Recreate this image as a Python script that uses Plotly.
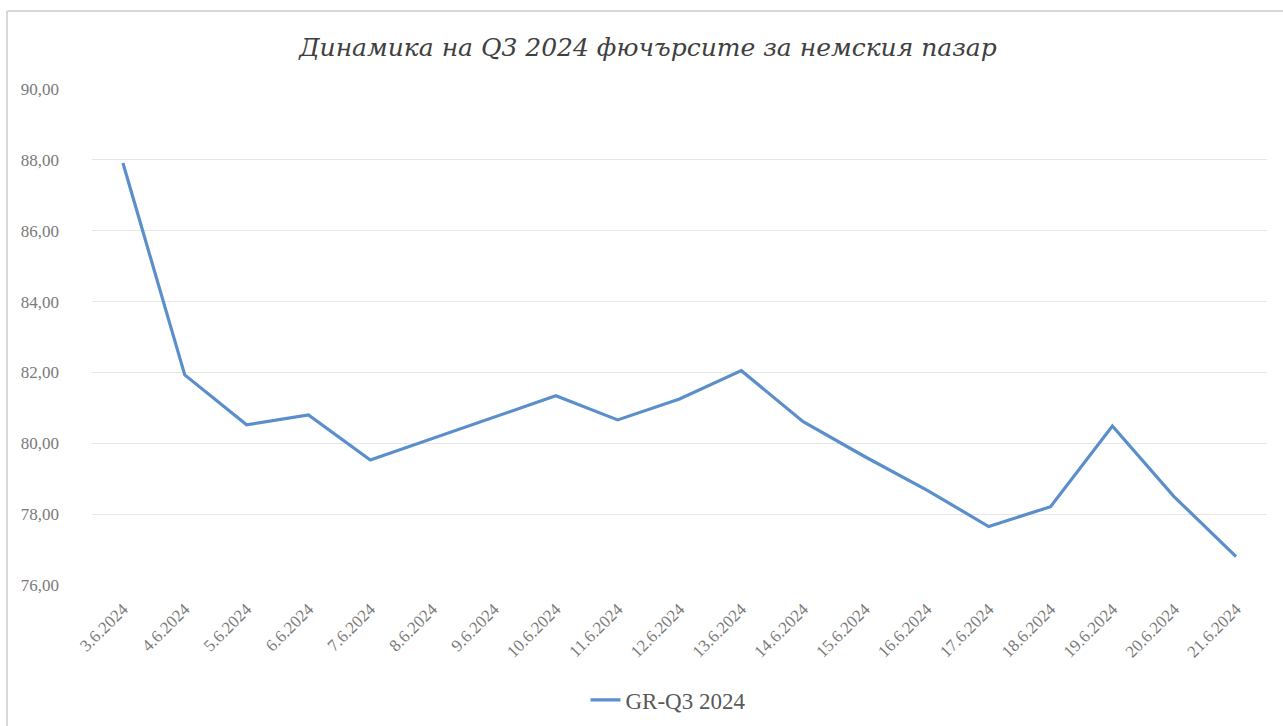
import plotly.graph_objects as go

dates = ["3.6.2024", "4.6.2024", "5.6.2024", "6.6.2024", "7.6.2024", "8.6.2024",
         "9.6.2024", "10.6.2024", "11.6.2024", "12.6.2024", "13.6.2024", "14.6.2024",
         "15.6.2024", "16.6.2024", "17.6.2024", "18.6.2024", "19.6.2024", "20.6.2024",
         "21.6.2024"]
values = [87.91, 81.93, 80.52, 80.80, 79.53, 80.14, 80.74, 81.34, 80.66, 81.25,
          82.05, 80.61, 79.62, 78.68, 77.65, 78.21, 80.49, 78.49, 76.80]
series_name = "GR-Q3 2024"
title_text = "Динамика на Q3 2024 фючърсите за немския пазар"
y_ticks = [76, 78, 80, 82, 84, 86, 88, 90]

fig = go.Figure()
fig.add_trace(go.Scatter(
    x=dates, y=values, mode="lines", name=series_name,
    line=dict(color="#5B8FCB", width=3.2),
))

W, H = 1283, 726
ml, mr, mt, mb = 92, 16, 89, 141
pw = W - ml - mr
ph = H - mt - mb

def px_to_paper_x(px):
    return (px - ml) / pw

def px_to_paper_y(py):
    return (H - mb - py) / ph

border = dict(color="#d9d9d9", width=2)
fig.add_shape(type="line", xref="paper", yref="paper",
              x0=px_to_paper_x(7), x1=px_to_paper_x(7),
              y0=px_to_paper_y(11), y1=px_to_paper_y(740), line=border)
fig.add_shape(type="line", xref="paper", yref="paper",
              x0=px_to_paper_x(7), x1=px_to_paper_x(1300),
              y0=px_to_paper_y(11), y1=px_to_paper_y(11), line=border)

fig.update_layout(
    width=W, height=H,
    margin=dict(l=ml, r=mr, t=mt, b=mb, autoexpand=False),
    paper_bgcolor="white", plot_bgcolor="white",
    separators=", ",
    title=dict(
        text=title_text,
        x=648 / W, xref="container", xanchor="center",
        y=1 - 47 / H, yref="container", yanchor="middle",
        font=dict(family="DejaVu Serif", size=25, color="#404040", style="italic"),
    ),
    xaxis=dict(
        type="category",
        range=[-0.5, len(dates) - 0.5],
        tickangle=-45,
        tickfont=dict(family="Liberation Serif", size=17, color="#7a7a7a"),
        showgrid=False, zeroline=False,
        showline=False,
        ticks="", ticklabelstandoff=10,
    ),
    yaxis=dict(
        range=[76, 90],
        tickvals=y_ticks,
        tickformat=".2f",
        tickfont=dict(family="Liberation Serif", size=17, color="#7a7a7a"),
        showgrid=True, gridcolor="#e6e6e6", gridwidth=1,
        zeroline=False, showline=False,
        ticks="", ticklabelstandoff=32,
    ),
    showlegend=True,
    legend=dict(
        orientation="h", x=px_to_paper_x(668), xanchor="center",
        y=px_to_paper_y(700), yanchor="middle",
        font=dict(family="Liberation Serif", size=23, color="#595959"),
    ),
)

fig.write_html("out.html", config={"displayModeBar": False},
               post_script="document.body.style.margin='0';")
